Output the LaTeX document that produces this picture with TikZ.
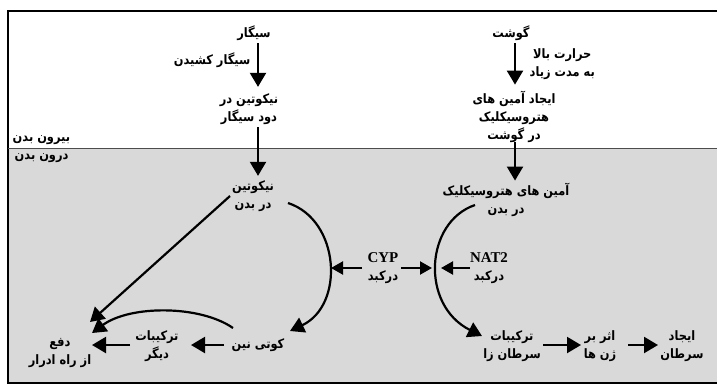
\documentclass[tikz,border=0pt]{standalone}
\usepackage{fontspec}
\usetikzlibrary{arrows.meta}
\TeXXeTstate=1
\newfontfamily\fafont[Script=Arabic,FakeStretch=0.88]{DejaVu Sans}
\newfontfamily\latfont{Liberation Serif}
\newcommand{\fa}[1]{\beginR #1\endR}
\begin{document}
\begin{tikzpicture}[x=1bp,y=-1bp,
  lab/.style={font=\fafont\bfseries\fontsize{13}{18}\selectfont, align=center, inner sep=1.5bp},
  conn/.style={line width=2.2bp, -{Triangle[length=14bp,width=16bp]}},
  small/.style={-{Triangle[length=12bp,width=13bp]}},
  frame/.style={line width=1.6bp},
  divider/.style={line width=1bp, black!70},
  inside/.style={fill=black!15}]
\useasboundingbox (0,0) rectangle (717,388);
\fill[inside] (8,148) rectangle (720,383);
\draw[frame] (720,11) -- (8,11) -- (8,383) -- (720,383);
\draw[divider] (8,148) -- (720,148);

% nodes
\node[lab] (cig) at (254,33) {\fa{سیگار}};
\node[lab, anchor=east] (smoking) at (252,60) {\fa{سیگار کشیدن}};
\node[lab] (nicsmoke) at (249,109) {\fa{نیکوتین در}\\\fa{دود سیگار}};
\node[lab, anchor=west] (outside) at (11,140) {\fa{بیرون بدن}};
\node[lab, anchor=west] (inbody) at (13,158) {\fa{درون بدن}};
\node[lab] (nicbody) at (253,196) {\fa{نیکوتین}\\\fa{در بدن}};
\node[lab] (meat) at (511,33) {\fa{گوشت}};
\node[lab, anchor=west] (heat) at (528,64) {\fa{حرارت بالا}\\\fa{به مدت زیاد}};
\node[lab] (hca) at (514,117) {\fa{ایجاد آمین های}\\\fa{هتروسیکلیک}\\\fa{در گوشت}};
\node[lab] (hcabody) at (506,200) {\fa{آمین های هتروسیکلیک}\\\fa{در بدن}};
\node[lab] (cot) at (258,345) {\fa{کوتی نین}};
\node[lab] (other) at (157,346) {\fa{ترکیبات}\\\fa{دیگر}};
\node[lab] (excr) at (60,353) {\fa{دفع}\\\fa{از راه ادرار}};
\node[lab, align=center] (cyp) at (383,268) {{\latfont\fontsize{15}{18}\selectfont CYP}\\\fa{درکبد}};
\node[lab, align=center] (nat) at (489,268) {{\latfont\fontsize{15}{18}\selectfont NAT2}\\\fa{درکبد}};
\node[lab] (carc) at (512,346) {\fa{ترکیبات}\\\fa{سرطان زا}};
\node[lab] (gene) at (600,346) {\fa{اثر بر}\\\fa{ژن ها}};
\node[lab] (cancer) at (682,346) {\fa{ایجاد}\\\fa{سرطان}};

% helper coordinates
\coordinate (colA) at (258,0);
\coordinate (colB) at (515,0);
\coordinate (c1s) at (288,203);
\coordinate (c1e) at (290,331);
\coordinate (c2s) at (475,205);
\coordinate (c2e) at (482,336);
\coordinate (cyLs) at (362,268);
\coordinate (cyL) at (331,268);
\coordinate (cyRs) at (401,268);
\coordinate (cyR) at (432,268);
\coordinate (natS) at (470,268);
\coordinate (natT) at (441,268);
\coordinate (nicS) at (230,196);
\coordinate (excT) at (90,322);
\coordinate (cotS) at (233,328);
\coordinate (excT2) at (92,333);
\coordinate (h1s) at (224,345);
\coordinate (h1e) at (191,345);
\coordinate (h2s) at (130,345);
\coordinate (h2e) at (92,345);
\coordinate (h3s) at (543,345);
\coordinate (h3e) at (581,345);
\coordinate (h4s) at (628,345);
\coordinate (h4e) at (658,345);

% vertical arrows
\draw[conn] ([yshift=-1bp]cig.south -| colA) -- ([yshift=5bp]nicsmoke.north -| colA);
\draw[conn] ([yshift=-1bp]nicsmoke.south -| colA) -- ([yshift=3bp]nicbody.north -| colA);
\draw[conn] ([yshift=-1bp]meat.south -| colB) -- ([yshift=5bp]hca.north -| colB);
\draw[conn] ([yshift=2bp]hca.south -| colB) -- ([yshift=1bp]hcabody.north -| colB);

% curves
\draw[conn] (c1s) .. controls (340,220) and (345,305) .. (c1e);
\draw[conn] (c2s) .. controls (425,222) and (420,305) .. (c2e);
\draw[conn] (nicS) -- (excT);
\draw[conn] (cotS) .. controls (200,305) and (130,305) .. (excT2);

% enzyme arrows
\draw[conn, small] (cyLs) -- (cyL);
\draw[conn, small] (cyRs) -- (cyR);
\draw[conn, small] (natS) -- (natT);

% horizontal arrows
\draw[conn] (h1s) -- (h1e);
\draw[conn] (h2s) -- (h2e);
\draw[conn] (h3s) -- (h3e);
\draw[conn] (h4s) -- (h4e);
\end{tikzpicture}
\end{document}
